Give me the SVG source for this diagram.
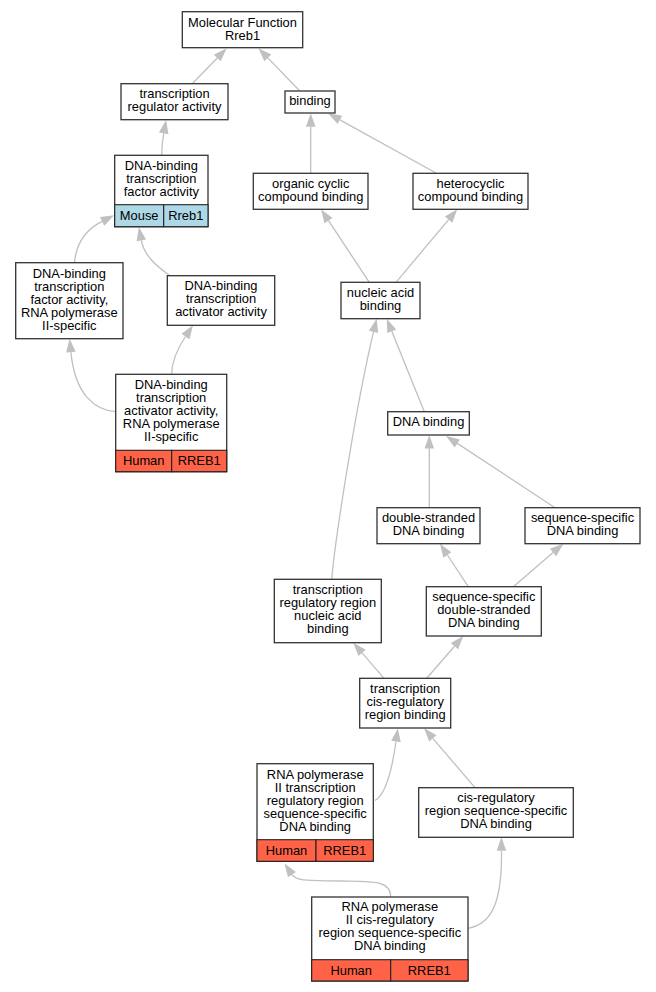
<svg xmlns="http://www.w3.org/2000/svg" width="656" height="992" viewBox="0 0 656 992">
<style>
.n rect{fill:#fff;stroke:#333;stroke-width:1.3}
.n rect.m{fill:#add8e6;stroke:#222;stroke-width:1.1}
.n rect.h{fill:#ff6347;stroke:#222;stroke-width:1.1}
text{font-family:"Liberation Sans",Arial,sans-serif;font-size:12.9px;fill:#000;text-anchor:middle}
#edges path{fill:none;stroke:#c0c0c0;stroke-width:1.3;marker-end:url(#ah)}
</style>
<defs>
<marker id="ah" markerUnits="userSpaceOnUse" markerWidth="15" markerHeight="11" refX="0" refY="4.8" orient="auto" overflow="visible">
<path d="M0,0 L13.5,4.8 L0,9.6 Z" fill="#c0c0c0"/>
</marker>
</defs>
<rect width="656" height="992" fill="#fff"/>
<g id="edges">
<path d="M192.7,83.3 L217.3,58"/>
<path d="M299.3,90.5 L267.8,57.9"/>
<path d="M161.7,155.3 C161.7,147 162.5,140 163.7,133.4"/>
<path d="M310.7,173.3 L310.7,126.8"/>
<path d="M436,173 L339.9,119.9"/>
<path d="M369.3,282.3 L328.5,220.6"/>
<path d="M396,282.3 L448.6,219.6"/>
<path d="M424.3,411.7 L391.8,331.2"/>
<path d="M331.7,579.3 C335,540 356,405 373.5,331.8"/>
<path d="M429.3,507.7 L429.3,448.5"/>
<path d="M555,507.7 L457.3,443.4"/>
<path d="M468.3,586.7 L447.4,555"/>
<path d="M513.3,586.7 L553.1,552.5"/>
<path d="M384,678.3 L362.1,652.9"/>
<path d="M426.7,678.3 L454.5,646.2"/>
<path d="M375,800.5 C385,795 392,770 396,741.5"/>
<path d="M475,787.7 L432.8,738.3"/>
<path d="M390.7,897 C391,880 372,881.5 340,881 C312,880.5 297,882 292,874.6"/>
<path d="M468,928.3 C495,924 502,895 501.5,850.8"/>
<path d="M74.5,262.5 C76,245 85,230 102.1,221.4"/>
<path d="M170,275.7 C155,265 144,255 141.3,240.3"/>
<path d="M115.7,411.7 C95,410 75,395 70.9,352.1"/>
<path d="M171.7,374.3 C171.7,360 178.5,347 185.5,336.5"/>
</g>
<g id="n1" class="n"><rect x="182.3" y="11.7" width="120.4" height="36"/><text x="242.5" y="26.5">Molecular Function</text><text x="242.5" y="39.5">Rreb1</text></g>
<g id="n2" class="n"><rect x="121" y="83.7" width="107" height="36"/><text x="174.5" y="98.4">transcription</text><text x="174.5" y="111.4">regulator activity</text></g>
<g id="n3" class="n"><rect x="285" y="91" width="50" height="22"/><text x="310" y="105.2">binding</text></g>
<g id="n4" class="n"><rect x="114.7" y="155.3" width="93.3" height="71.4"/><rect class="m" x="114.7" y="204.7" width="49" height="22"/><rect class="m" x="163.7" y="204.7" width="44.3" height="22"/><text x="161.3" y="169.8">DNA-binding</text><text x="161.3" y="182.8">transcription</text><text x="161.3" y="195.8">factor activity</text><text x="139.2" y="220">Mouse</text><text x="185.8" y="220">Rreb1</text></g>
<g id="n5" class="n"><rect x="253.3" y="173.3" width="114.7" height="36"/><text x="310.7" y="187.6">organic cyclic</text><text x="310.7" y="200.6">compound binding</text></g>
<g id="n6" class="n"><rect x="413" y="173.3" width="115" height="36"/><text x="470.5" y="187.6">heterocyclic</text><text x="470.5" y="200.6">compound binding</text></g>
<g id="n7" class="n"><rect x="341" y="282.3" width="79" height="36.4"/><text x="380.5" y="296.8">nucleic acid</text><text x="380.5" y="309.8">binding</text></g>
<g id="n8" class="n"><rect x="387.7" y="411.7" width="81.6" height="23.3"/><text x="428.5" y="426.1">DNA binding</text></g>
<g id="n9" class="n"><rect x="15.7" y="262.7" width="107.3" height="76"/><text x="69.3" y="277.5">DNA-binding</text><text x="69.3" y="290.5">transcription</text><text x="69.3" y="303.5">factor activity,</text><text x="69.3" y="316.5">RNA polymerase</text><text x="69.3" y="329.5">II-specific</text></g>
<g id="n10" class="n"><rect x="167.3" y="275.7" width="107.4" height="49.6"/><text x="221" y="290.3">DNA-binding</text><text x="221" y="303.3">transcription</text><text x="221" y="316.3">activator activity</text></g>
<g id="n11" class="n"><rect x="115.7" y="374.3" width="111" height="97.4"/><rect class="h" x="115.7" y="450.3" width="56" height="21.4"/><rect class="h" x="171.7" y="450.3" width="55" height="21.4"/><text x="171.2" y="389.1">DNA-binding</text><text x="171.2" y="402.1">transcription</text><text x="171.2" y="415.1">activator activity,</text><text x="171.2" y="428.1">RNA polymerase</text><text x="171.2" y="441.1">II-specific</text><text x="143.7" y="465">Human</text><text x="199.2" y="465">RREB1</text></g>
<g id="n12" class="n"><rect x="377" y="507.7" width="103" height="36"/><text x="428.5" y="522">double-stranded</text><text x="428.5" y="535">DNA binding</text></g>
<g id="n13" class="n"><rect x="525" y="507.7" width="115" height="36"/><text x="582.5" y="522">sequence-specific</text><text x="582.5" y="535">DNA binding</text></g>
<g id="n14" class="n"><rect x="274.3" y="579.3" width="107" height="63.4"/><text x="327.8" y="594.3">transcription</text><text x="327.8" y="607.3">regulatory region</text><text x="327.8" y="620.3">nucleic acid</text><text x="327.8" y="633.3">binding</text></g>
<g id="n15" class="n"><rect x="426.3" y="586.7" width="115" height="49.3"/><text x="483.8" y="601.1">sequence-specific</text><text x="483.8" y="614.1">double-stranded</text><text x="483.8" y="627.1">DNA binding</text></g>
<g id="n16" class="n"><rect x="359.7" y="678.3" width="91" height="49.7"/><text x="405.2" y="693">transcription</text><text x="405.2" y="706">cis-regulatory</text><text x="405.2" y="719">region binding</text></g>
<g id="n17" class="n"><rect x="257" y="763.7" width="116.3" height="97.6"/><rect class="h" x="257" y="839.7" width="59" height="21.6"/><rect class="h" x="316" y="839.7" width="57.3" height="21.6"/><text x="315.2" y="778.5">RNA polymerase</text><text x="315.2" y="791.5">II transcription</text><text x="315.2" y="804.5">regulatory region</text><text x="315.2" y="817.5">sequence-specific</text><text x="315.2" y="830.5">DNA binding</text><text x="286.5" y="854.5">Human</text><text x="344.7" y="854.5">RREB1</text></g>
<g id="n18" class="n"><rect x="418.7" y="787.7" width="154.6" height="49.6"/><text x="496" y="802.3">cis-regulatory</text><text x="496" y="815.3">region sequence-specific</text><text x="496" y="828.3">DNA binding</text></g>
<g id="n19" class="n"><rect x="311.7" y="897" width="156.3" height="84"/><rect class="h" x="311.7" y="959.7" width="79" height="21.3"/><rect class="h" x="390.7" y="959.7" width="77.3" height="21.3"/><text x="389.8" y="911.3">RNA polymerase</text><text x="389.8" y="924.3">II cis-regulatory</text><text x="389.8" y="937.3">region sequence-specific</text><text x="389.8" y="950.3">DNA binding</text><text x="351.2" y="974.5">Human</text><text x="429.3" y="974.5">RREB1</text></g>
</svg>
